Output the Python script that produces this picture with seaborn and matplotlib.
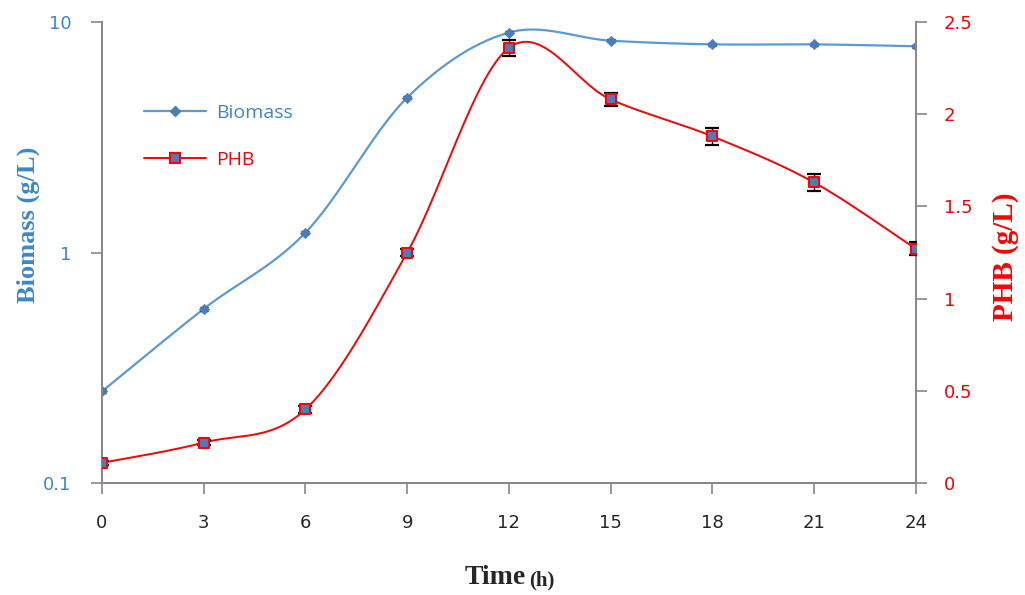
import numpy as np
import pandas as pd
import seaborn as sns
import matplotlib.pyplot as plt
from matplotlib.lines import Line2D

# data
time_h = [0, 3, 6, 9, 12, 15, 18, 21, 24]
biomass = [0.25, 0.57, 1.22, 4.7, 9.0, 8.3, 8.0, 8.0, 7.85]
biomass_err = [0.005, 0.01, 0.02, 0.08, 0.12, 0.1, 0.1, 0.1, 0.1]
phb = [0.11, 0.22, 0.40, 1.25, 2.36, 2.08, 1.88, 1.63, 1.27]
phb_err = [0.01, 0.015, 0.02, 0.02, 0.045, 0.035, 0.045, 0.045, 0.035]

BLUE_LINE = "#5B9BD5"
BLUE_MARK = "#4A7EBB"
BLUE_TXT = "#3B87CF"
RED = "#FF0000"


def smooth(x, y, n=30):
    # Excel-like smoothed line (Catmull-Rom through the points)
    x = np.asarray(x, float)
    y = np.asarray(y, float)
    px = np.concatenate([[x[0]], x, [x[-1]]])
    py = np.concatenate([[y[0]], y, [y[-1]]])
    xs, ys = [], []
    t = np.linspace(0, 1, n)
    for i in range(1, len(px) - 2):
        for p, out in ((px, xs), (py, ys)):
            p0, p1, p2, p3 = p[i - 1], p[i], p[i + 1], p[i + 2]
            m1 = (p2 - p0) / 2
            m2 = (p3 - p1) / 2
            h00 = 2 * t**3 - 3 * t**2 + 1
            h10 = t**3 - 2 * t**2 + t
            h01 = -2 * t**3 + 3 * t**2
            h11 = t**3 - t**2
            out.extend(h00 * p1 + h10 * m1 + h01 * p2 + h11 * m2)
    return np.array(xs), np.array(ys)


sns.set_style("ticks")
fig = plt.figure(figsize=(10.25, 5.95), dpi=100)
ax = fig.add_axes([0.0995, 0.188, 0.794, 0.775])
ax2 = ax.twinx()

# biomass on log axis, smoothed in log space
bx, by = smooth(time_h, np.log10(biomass))
sns.lineplot(x=bx, y=10**by, ax=ax, color=BLUE_LINE, lw=1.6, sort=False)
ax.errorbar(time_h, biomass, yerr=biomass_err, fmt="none", ecolor="black",
            elinewidth=0.8, capsize=3, zorder=3)
sns.scatterplot(x=time_h, y=biomass, ax=ax, marker="D", s=28, color=BLUE_MARK,
                edgecolor=BLUE_MARK, zorder=4)

px_, py_ = smooth(time_h, phb)
sns.lineplot(x=px_, y=py_, ax=ax2, color=RED, lw=1.4, sort=False)
ax2.errorbar(time_h, phb, yerr=phb_err, fmt="none", ecolor="black",
             elinewidth=1.0, capsize=5, capthick=1.6, zorder=3)
sns.scatterplot(x=time_h, y=phb, ax=ax2, marker="s", s=55, color=BLUE_MARK,
                edgecolor=RED, linewidth=1.5, zorder=4)

ax.set_yscale("log")
ax.set_ylim(0.1, 10)
ax.set_xlim(0, 24)
ax2.set_ylim(0, 2.5)
ax.set_xticks(time_h)
ax.set_yticks([0.1, 1, 10])
ax.set_yticklabels(["0.1", "1", "10"])
ax.minorticks_off()
ax2.set_yticks([0, 0.5, 1, 1.5, 2, 2.5])
ax2.set_yticklabels(["0", "0.5", "1", "1.5", "2", "2.5"])

tickfont = "DejaVu Sans"
for lab in ax.get_xticklabels():
    lab.set_fontfamily(tickfont)
for lab in ax.get_yticklabels():
    lab.set_fontfamily(tickfont)
    lab.set_color(BLUE_TXT)
for lab in ax2.get_yticklabels():
    lab.set_fontfamily(tickfont)
    lab.set_color(RED)
ax.tick_params(axis="both", labelsize=13, color="#888888", length=8, width=1.2)
ax2.tick_params(axis="y", labelsize=13, color="#888888", length=8, width=1.2,
                pad=12)
ax.tick_params(axis="y", pad=14)
ax.tick_params(axis="x", pad=14)

for a in (ax, ax2):
    a.spines["top"].set_visible(False)
    for s in ("left", "right", "bottom"):
        a.spines[s].set_color("#888888")
        a.spines[s].set_linewidth(1.4)
ax.spines["right"].set_visible(False)

ax.set_ylabel("Biomass (g/L)", family="Liberation Serif", fontweight="bold",
              fontsize=19, color=BLUE_TXT)
ax.yaxis.set_label_coords(-0.076, 0.56)
ax2.set_ylabel("PHB (g/L)", family="Liberation Serif", fontweight="bold",
               fontsize=21, color=RED)
ax2.yaxis.set_label_coords(1.094, 0.49)
ax.set_xlabel("")
fig.text(0.513, 0.008, "Time", family="Liberation Serif", fontweight="bold",
         fontsize=20, ha="right", va="bottom")
fig.text(0.516, 0.008, "(h)", family="Liberation Serif", fontweight="bold",
         fontsize=15, ha="left", va="bottom")

handles = [
    Line2D([], [], color=BLUE_LINE, lw=1.6, marker="D", ms=5,
           markerfacecolor=BLUE_MARK, markeredgecolor=BLUE_MARK),
    Line2D([], [], color=RED, lw=1.4, marker="s", ms=7,
           markerfacecolor=BLUE_MARK, markeredgecolor=RED, markeredgewidth=1.5),
]
leg = ax.legend(handles, ["Biomass", "PHB"], loc="upper left",
                bbox_to_anchor=(0.03, 0.86), frameon=False, handlelength=3.2,
                handletextpad=0.5, labelspacing=1.5,
                prop={"family": "Open Sans", "size": 14})
for txt, c in zip(leg.get_texts(), [BLUE_TXT, RED]):
    txt.set_color(c)

fig.savefig("out.png", dpi=100)
